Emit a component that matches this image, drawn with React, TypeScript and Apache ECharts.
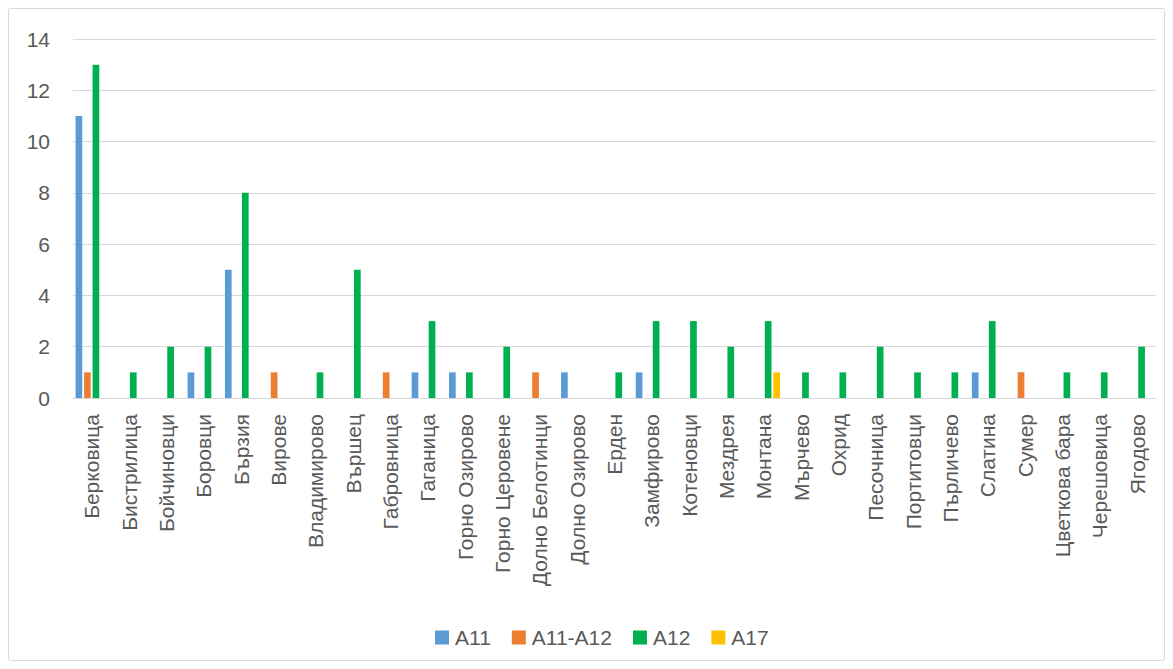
import React, { useEffect, useRef } from "react";
import * as echarts from "echarts";

const categories = [
  "Берковица", "Бистрилица", "Бойчиновци", "Боровци", "Бързия", "Вирове", "Владимирово",
  "Вършец", "Габровница", "Гаганица", "Горно Озирово", "Горно Церовене", "Долно Белотинци",
  "Долно Озирово", "Ерден", "Замфирово", "Котеновци", "Мездрея", "Монтана", "Мърчево",
  "Охрид", "Песочница", "Портитовци", "Пърличево", "Слатина", "Сумер", "Цветкова бара",
  "Черешовица", "Ягодово",
];

const a11 = [11, null, null, 1, 5, null, null, null, null, 1, 1, null, null, 1, null, 1, null, null, null, null, null, null, null, null, 1, null, null, null, null];
const a11a12 = [1, null, null, null, null, 1, null, null, 1, null, null, null, 1, null, null, null, null, null, null, null, null, null, null, null, null, 1, null, null, null];
const a12 = [13, 1, 2, 2, 8, null, 1, 5, null, 3, 1, 2, null, null, 1, 3, 3, 2, 3, 1, 1, 2, 1, 1, 3, null, 1, 1, 2];
const a17 = [null, null, null, null, null, null, null, null, null, null, null, null, null, null, null, null, null, null, 1, null, null, null, null, null, null, null, null, null, null];

const seriesNames = ["A11", "A11-A12", "A12", "A17"];
const seriesColors = ["#5B9BD5", "#ED7D31", "#00B050", "#FFC000"];
const seriesData = [a11, a11a12, a12, a17];

const FONT = "'Liberation Sans', Arial, sans-serif";

export default function App() {
  const ref = useRef<HTMLDivElement>(null);
  useEffect(() => {
    if (!ref.current) return;
    const chart = echarts.init(ref.current, undefined, { renderer: "svg" });
    chart.setOption({
      animation: false,
      backgroundColor: "#ffffff",
      graphic: [
        {
          type: "rect",
          shape: { x: 8.5, y: 8.5, width: 1156, height: 652, r: 2 },
          style: { fill: "none", stroke: "#d9d9d9", lineWidth: 1 },
          silent: true,
        },
      ],
      grid: { left: 73, right: 17, top: 39, bottom: 271, containLabel: false },
      legend: {
        top: 627,
        left: 435,
        padding: 0,
        itemWidth: 14,
        itemHeight: 14,
        itemGap: 21,
        icon: "rect",
        textStyle: { fontFamily: FONT, fontSize: 21, color: "#595959", padding: [0, 0, 0, 1] },
        data: seriesNames,
      },
      xAxis: {
        type: "category",
        data: categories,
        axisLine: { lineStyle: { color: "#d9d9d9", width: 1 } },
        axisTick: { show: false },
        axisLabel: {
          rotate: 90,
          interval: 0,
          margin: 16,
          fontFamily: FONT,
          fontSize: 21,
          color: "#595959",
        },
      },
      yAxis: {
        type: "value",
        min: 0,
        max: 14,
        interval: 2,
        axisLine: { show: false },
        axisTick: { show: false },
        splitLine: { lineStyle: { color: "#d9d9d9", width: 1 } },
        axisLabel: { margin: 23, fontFamily: FONT, fontSize: 21, color: "#595959" },
      },
      series: seriesNames.map((name, i) => ({
        name,
        type: "bar",
        data: seriesData[i],
        barWidth: 6.7,
        barGap: "27%",
        itemStyle: { color: seriesColors[i] },
      })),
    });
    return () => chart.dispose();
  }, []);
  return (
    <div
      ref={ref}
      style={{ position: "fixed", left: 0, top: 0, width: 1173, height: 669 }}
    />
  );
}
